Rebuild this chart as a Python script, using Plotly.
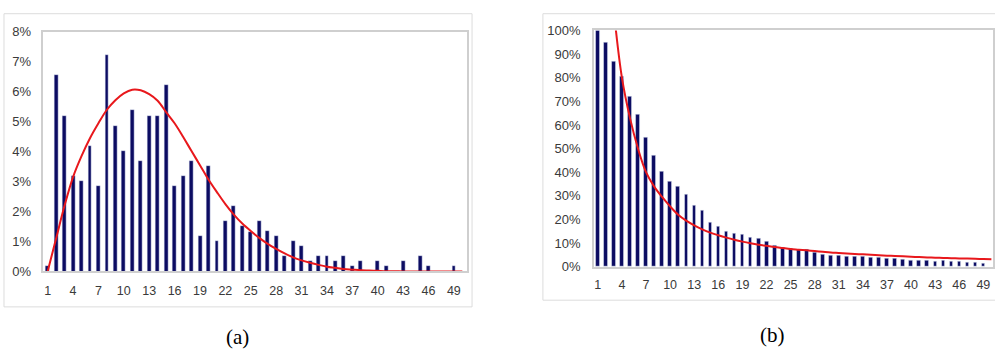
import plotly.graph_objects as go

# ---------------- data: chart (a) ----------------
rank_a = list(range(1, 51))
share_a = [0.17, 6.56, 5.20, 3.20, 3.03, 4.20, 2.86, 7.23, 4.87, 4.03,
           5.38, 3.70, 5.20, 5.20, 6.22, 2.86, 3.20, 3.69, 1.18, 3.54,
           1.01, 1.69, 2.19, 1.51, 1.31, 1.69, 1.34, 1.18, 0.51, 1.01,
           0.85, 0.34, 0.51, 0.51, 0.34, 0.51, 0.17, 0.34, 0.00, 0.34,
           0.17, 0.00, 0.34, 0.00, 0.51, 0.17, 0.00, 0.00, 0.17, 0.00]
fit_a = [0.00, 1.10, 2.20, 3.15, 3.85, 4.45, 4.95, 5.40, 5.72, 5.95,
         6.07, 6.05, 5.92, 5.70, 5.32, 4.95, 4.50, 4.02, 3.55, 3.07,
         2.65, 2.25, 1.90, 1.60, 1.35, 1.12, 0.92, 0.75, 0.60, 0.47,
         0.37, 0.29, 0.22, 0.16, 0.12, 0.08, 0.06, 0.04, 0.03, 0.02,
         0.01, 0.01, 0.00, 0.00, 0.00, 0.00, 0.00, 0.00, 0.00, 0.00]

# ---------------- data: chart (b) ----------------
rank_b = list(range(1, 50))
share_b = [100.0, 95.0, 86.9, 80.7, 71.9, 64.3, 54.5, 46.9, 40.5, 36.1,
           33.8, 30.7, 26.1, 23.6, 18.5, 16.9, 14.9, 14.2, 13.5, 12.4,
           11.9, 10.7, 8.8, 8.1, 7.6, 7.4, 7.4, 6.1, 5.0, 4.7,
           4.7, 4.5, 4.2, 4.1, 3.9, 3.8, 3.6, 3.5, 3.2, 2.6,
           2.6, 2.6, 2.4, 2.6, 2.0, 2.0, 1.9, 1.9, 1.2]
fit_b_x = list(range(3, 51))
fit_b = [108.0, 80.0, 63.0, 50.0, 40.0, 34.0, 29.5, 25.5, 22.0, 19.5,
         17.5, 15.8, 14.4, 13.3, 12.3, 11.4, 10.6, 9.9, 9.3, 8.8,
         8.3, 7.9, 7.5, 7.2, 6.9, 6.6, 6.3, 6.0, 5.8, 5.6,
         5.4, 5.2, 5.0, 4.8, 4.65, 4.5, 4.35, 4.2, 4.05, 3.9,
         3.8, 3.7, 3.6, 3.5, 3.4, 3.3, 3.2, 3.1]

tick_vals = list(range(1, 50, 3))
tick_text = [str(v) for v in tick_vals]
panel_labels = ["(a)", "(b)"]

W, H = 995, 358
BAR = "#0c0c62"
RED = "#e8181c"
TXT = "#3a3a3a"
BORDER = "#cfcfcf"

def px_x(a, b):
    return [a / W, b / W]

def px_y(top, bottom):
    return [1 - bottom / H, 1 - top / H]

fig = go.Figure()
fig.add_trace(go.Bar(x=rank_a, y=share_a, marker_color=BAR, width=0.46,
                     xaxis="x", yaxis="y", showlegend=False))
fig.add_trace(go.Scatter(x=rank_a, y=fit_a, mode="lines", line=dict(color=RED, width=2, shape="spline"),
                         xaxis="x", yaxis="y", showlegend=False, cliponaxis=True))
fig.add_trace(go.Bar(x=rank_b, y=share_b, marker_color=BAR, width=0.46,
                     xaxis="x2", yaxis="y2", showlegend=False))
fig.add_trace(go.Scatter(x=fit_b_x, y=fit_b, mode="lines", line=dict(color=RED, width=2, shape="spline"),
                         xaxis="x2", yaxis="y2", showlegend=False, cliponaxis=True))

xfont = dict(family="Liberation Sans, Arial, sans-serif", size=12.5, color=TXT)
yfont = dict(family="Liberation Sans, Arial, sans-serif", size=13, color=TXT)

axis_common = dict(showgrid=False, zeroline=False, showline=True, mirror=True,
                   linecolor=BORDER, linewidth=1.5, ticks="")

fig.update_layout(
    width=W, height=H,
    margin=dict(l=0, r=0, t=0, b=0),
    paper_bgcolor="white", plot_bgcolor="white",
    bargap=0,
    xaxis=dict(domain=px_x(43.5, 467.5), range=[0.5, 50.5], tickmode="array",
               tickvals=tick_vals, ticktext=tick_text, anchor="y",
               ticklabelstandoff=7, tickfont=xfont, **axis_common),
    yaxis=dict(domain=px_y(26, 276), range=[0, 8], dtick=1, ticksuffix="%",
               anchor="x", ticklabelstandoff=8, tickfont=yfont, **axis_common),
    xaxis2=dict(domain=px_x(595, 995), range=[0.5, 50.2], tickmode="array",
                tickvals=tick_vals, ticktext=tick_text, anchor="y2",
                ticklabelstandoff=6, tickfont=xfont, **axis_common),
    yaxis2=dict(domain=px_y(24.5, 271), range=[0, 100], dtick=10, ticksuffix="%",
                anchor="x2", ticklabelstandoff=9, tickfont=yfont, **axis_common),
    shapes=[
        dict(type="rect", xref="paper", yref="paper",
             x0=4 / W, x1=473 / W, y0=1 - 313 / H, y1=1 - 7 / H,
             line=dict(color="#dcdcdc", width=1)),
        dict(type="rect", xref="paper", yref="paper",
             x0=544 / W, x1=1.02, y0=1 - 306 / H, y1=1 - 7 / H,
             line=dict(color="#dcdcdc", width=1)),
    ],
    annotations=[
        dict(text=panel_labels[0], xref="paper", yref="paper", x=238 / W, y=1 - 344 / H,
             showarrow=False, xanchor="center", yanchor="middle",
             font=dict(family="Liberation Serif, Times New Roman, serif", size=21, color="black")),
        dict(text=panel_labels[1], xref="paper", yref="paper", x=774 / W, y=1 - 342 / H,
             showarrow=False, xanchor="center", yanchor="middle",
             font=dict(family="Liberation Serif, Times New Roman, serif", size=21, color="black")),
    ],
)

fig.write_html("out.html", config={"displayModeBar": False},
               post_script="document.body.style.margin='0px';document.body.style.overflow='hidden';")
